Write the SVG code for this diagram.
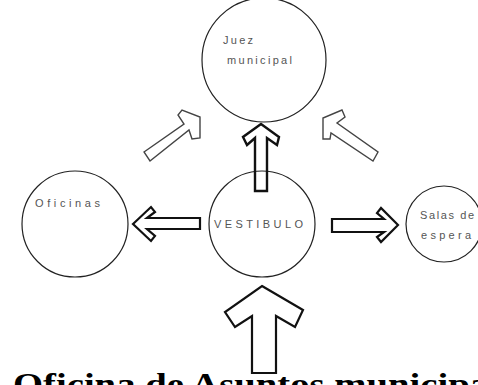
<svg xmlns="http://www.w3.org/2000/svg" width="478" height="385" viewBox="0 0 478 385">
<style>
.room{fill:#fff;stroke:#222;stroke-width:1.2}
.lbl{font-family:"Liberation Sans",Arial,sans-serif;fill:#555;font-size:11px}
.arr{fill:#fff;stroke:#111;stroke-width:2.2;stroke-linejoin:miter}
.arrn{fill:none;stroke:#111;stroke-width:2.4}
.diag{fill:#fff;stroke:#444;stroke-width:1.4}
.title{font-family:"Liberation Serif","Times New Roman",serif;font-weight:bold;font-size:32px;fill:#000}
</style>
<rect width="478" height="385" fill="#fff"/>
<g id="juez">
<circle class="room" cx="264" cy="60" r="62"/>
<text class="lbl" x="223" y="44" textLength="30" lengthAdjust="spacing">Juez</text>
<text class="lbl" x="227" y="64" textLength="65" lengthAdjust="spacing">municipal</text>
</g>
<g id="oficinas">
<circle class="room" cx="75" cy="224" r="53"/>
<text class="lbl" x="35" y="207" font-size="12" textLength="65" lengthAdjust="spacing">Oficinas</text>
</g>
<g id="vestibulo">
<circle class="room" cx="262" cy="224" r="53"/>
</g>
<g id="espera">
<circle class="room" cx="444" cy="224" r="38"/>
<text class="lbl" x="420" y="219" font-size="10" textLength="54" lengthAdjust="spacing">Salas de</text>
<text class="lbl" x="421" y="239" font-size="10" textLength="50" lengthAdjust="spacing">espera</text>
</g>
<g id="connectors">
<polygon class="diag" points="144,152 184,124 178,115 182,110 200,117 200,138 192,139 189,130 150,161"/>
<polygon class="diag" points="342,110 345,117 337,123 378,152 373,161 331,133 330,139 323,139 323,118"/>
<polygon class="arrn" points="261,124 279,137 277,145 267,138 267,191 255,191 255,138 247,145 243,137"/>
<polygon class="arr" points="133,224 151,207 155,212 147,218 200,218 200,229 147,229 155,236 151,241"/>
<polygon class="arr" points="398,225 381,242 377,237 384,232 332,232 332,219 384,219 377,213 381,208"/>
<polygon class="arr" points="262,286 303,310 295,327 276,316 276,373 252,373 252,316 235,327 225,312"/>
</g>
<text class="lbl" x="214" y="228" font-size="14" textLength="89" lengthAdjust="spacing">VESTIBULO</text>
<text class="title" x="13" y="395" textLength="519" lengthAdjust="spacingAndGlyphs">Oficina de Asuntos municipales</text>
</svg>
